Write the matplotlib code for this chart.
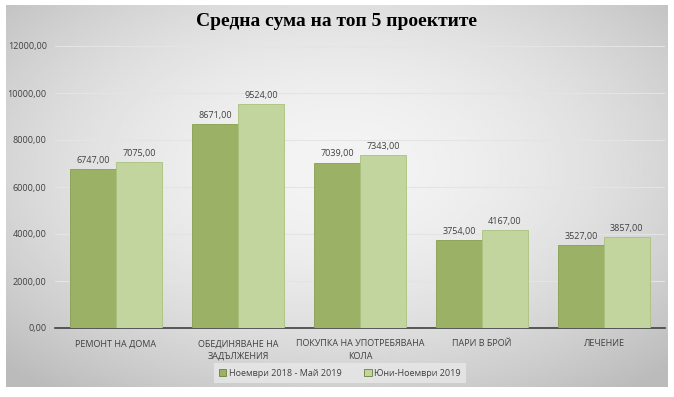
import matplotlib
matplotlib.use("Agg")
import matplotlib.pyplot as plt
import numpy as np

categories = ["РЕМОНТ НА ДОМА", "ОБЕДИНЯВАНЕ НА\nЗАДЪЛЖЕНИЯ",
              "ПОКУПКА НА УПОТРЕБЯВАНА\nКОЛА", "ПАРИ В БРОЙ", "ЛЕЧЕНИЕ"]
period1 = [6747, 8671, 7039, 3754, 3527]
period2 = [7075, 9524, 7343, 4167, 3857]
series_names = ["Ноември 2018 - Май 2019", "Юни-Ноември 2019"]
yticks = [0, 2000, 4000, 6000, 8000, 10000, 12000]

def fmt(v):
    return f"{v:.2f}".replace(".", ",")

plt.rcParams["font.family"] = ["Open Sans", "DejaVu Sans"]

fig = plt.figure(figsize=(6.74, 3.97), dpi=100)
fig.patch.set_facecolor("white")

# gradient chart-area background
bg = fig.add_axes([6 / 674, 10 / 397, 662 / 674, 382 / 397], zorder=0)
yy, xx = np.mgrid[-1:1:200j, -1:1:400j]
r = np.sqrt((xx / 1.1) ** 2 + ((yy + 0.15) / 1.15) ** 2)
shade = 0.955 - 0.14 * np.clip(r, 0, 1.3) ** 1.8
bg.imshow(shade, cmap="gray", vmin=0, vmax=1, aspect="auto",
          extent=[0, 1, 0, 1], interpolation="bilinear")
bg.axis("off")

ax = fig.add_axes([55 / 674, 1 - 328 / 397, 610 / 674, 282 / 397], zorder=1)
ax.patch.set_alpha(0)

x = np.arange(len(categories))
w = 0.375
dark, light = "#9bb165", "#c3d59e"
b1 = ax.bar(x - w / 2, period1, w, color=dark, edgecolor="#86a04f", lw=0.6,
            label=series_names[0], zorder=3)
b2 = ax.bar(x + w / 2, period2, w, color=light, edgecolor="#a9c27d", lw=0.6,
            label=series_names[1], zorder=3)
for bars, vals in ((b1, period1), (b2, period2)):
    for rect, v in zip(bars, vals):
        ax.text(rect.get_x() + rect.get_width() / 2, v + 180, fmt(v),
                ha="center", va="bottom", fontsize=6.5, color="#404040")

ax.set_xlim(-0.5, len(categories) - 0.5)
ax.set_ylim(0, 12000)
ax.set_yticks(yticks)
ax.set_yticklabels([fmt(v) for v in yticks], fontsize=6.5, color="#404040")
ax.set_xticks(x)
ax.set_xticklabels(categories, fontsize=6.5, color="#404040", linespacing=1.5)
ax.tick_params(length=0, pad=8)
ax.tick_params(axis="y", pad=6)
ax.grid(axis="y", color="#e4e4e4", lw=0.8, zorder=0)
for s in ("top", "right", "left"):
    ax.spines[s].set_visible(False)
ax.spines["bottom"].set_color("#404040")
ax.spines["bottom"].set_linewidth(1.2)

fig.text(0.5, 1 - 22 / 397, "Средна сума на топ 5 проектите",
         ha="center", va="center", fontsize=14, fontweight="bold",
         family="Liberation Serif", color="black")

leg = fig.legend(handles=[b1, b2], loc="center", bbox_to_anchor=(340 / 674, 1 - 373 / 397),
                 ncol=2, fontsize=6.5, frameon=True, fancybox=False,
                 handlelength=0.8, handleheight=0.8, handletextpad=0.3,
                 columnspacing=2.5, borderpad=0.6)
leg.get_frame().set_facecolor("#e8e8e8")
leg.get_frame().set_edgecolor("none")
for t in leg.get_texts():
    t.set_color("#404040")
for h in leg.legend_handles:
    h.set_edgecolor("#6b7f3a")

fig.savefig("out.png", dpi=100)
